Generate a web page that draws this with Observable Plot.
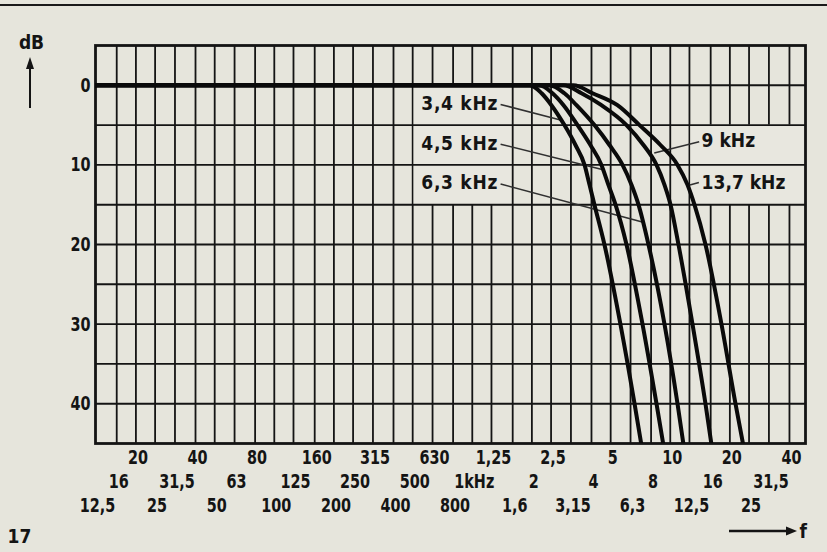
<!DOCTYPE html>
<html>
<head>
<meta charset="utf-8">
<script src="https://cdn.jsdelivr.net/npm/d3@7"></script>
<script src="https://cdn.jsdelivr.net/npm/@observablehq/plot@0.6"></script>
<style>
  body { margin: 0; background: #e6e5dc; }
  #chart svg { display: block; }
</style>
</head>
<body>
<div id="chart"></div>
<script>
// ---- data ----
const freqTicks = [12.5, 16, 20, 25, 31.5, 40, 50, 63, 80, 100, 125, 160, 200, 250, 315, 400, 500, 630, 800,
  1000, 1250, 1600, 2000, 2500, 3150, 4000, 5000, 6300, 8000, 10000, 12500, 16000, 20000, 25000, 31500, 40000];
const freqLabels = ["12,5", "16", "20", "25", "31,5", "40", "50", "63", "80", "100", "125", "160", "200", "250", "315",
  "400", "500", "630", "800", "1kHz", "1,25", "1,6", "2", "2,5", "3,15", "4", "5", "6,3", "8", "10", "12,5", "16", "20",
  "25", "31,5", "40"];
const dbTicks = [0, 10, 20, 30, 40];
const dbGrid = [0, 5, 10, 15, 20, 25, 30, 35, 40];

// attenuation levels (dB) and the frequency (Hz) at which each curve reaches them
const dbLevels = [0, 0, 1, 2.5, 5, 7.5, 10, 12.5, 15, 20, 30, 40, 46];
const f34  = [12.5, 1950, 2240, 2510, 2920, 3320, 3690, 3910, 4140, 4650, 5600, 6600, 7240];
const f45  = [12.5, 2185, 2540, 2890, 3400, 3950, 4490, 4870, 5290, 6010, 7240, 8520, 9350];
const f63  = [12.5, 2450, 2920, 3360, 4140, 4930, 5740, 6370, 6910, 7760, 9350, 10880, 11800];
const f90  = [12.5, 2890, 3560, 4490, 6010, 7320, 8520, 9350, 10030, 11000, 12950, 15060, 16340];
const f137 = [12.5, 3245, 4050, 5410, 6990, 8920, 10880, 12220, 13250, 15060, 18140, 21350, 23700];

const curveNames = ["3,4 kHz", "4,5 kHz", "6,3 kHz", "9 kHz", "13,7 kHz"];
const curveFreqs = [f34, f45, f63, f90, f137];

// annotation placement (data units)
const labelFreqLeft = 1350, labelFreqRight = 14400;
const labelDbLeft = [2.4, 7.3, 12.3];
const labelDbRight = [7.0, 12.2];
const leaderStart = [[1390, 2.4], [1390, 7.4], [1390, 12.4], [14000, 7.1], [13950, 12.2]];
const leaderEnd = [[2820, 4.4], [4580, 10.6], [7300, 17.2], [8300, 8.5], [12300, 12.6]];
const boxes = [{x1: 500, x2: 1600, y1: 0, y2: 15}, {x1: 12500, x2: 48200, y1: 5, y2: 15}];

// ---- build tables ----
const curveRows = curveNames.flatMap((name, i) =>
  dbLevels.map((db, j) => ({name, f: curveFreqs[i][j], db})));
const leaders = leaderStart.map((s, i) => ({x1: s[0], y1: s[1], x2: leaderEnd[i][0], y2: leaderEnd[i][1]}));
const leftLabels = labelDbLeft.map((db, i) => ({text: curveNames[i], db}));
const rightLabels = labelDbRight.map((db, i) => ({text: curveNames[i + 3], db}));
const idx = freqTicks.map((_, i) => i);

const FONT = '"DejaVu Sans Condensed","DejaVu Sans",sans-serif';
const INK = "#141414";
const W = 827, H = 552, mT = 45, mR = 22, mB = 109, mL = 95;
const rowDy = [62, 38, 14];

const tickText = (row) => Plot.text(idx.filter(i => i % 3 === row), {
  x: i => freqTicks[i], text: i => freqLabels[i], frameAnchor: "bottom", dy: rowDy[row], dx: 2,
  fontSize: 20, fontWeight: "bold", fill: INK, lineAnchor: "middle", ariaLabel: () => "narrow"
});

const chart = Plot.plot({
  width: W, height: H, marginTop: mT, marginRight: mR, marginBottom: mB, marginLeft: mL,
  x: {type: "log", domain: [12.5, 48200], axis: null},
  y: {domain: [45, -5], axis: null},
  style: {background: "#e6e5dc", fontFamily: FONT, color: INK, overflow: "visible"},
  marks: [
    Plot.ruleX(freqTicks.slice(1), {stroke: INK, strokeWidth: 1.8}),
    Plot.rect(boxes, {x1: "x1", x2: "x2", y1: "y1", y2: "y2", fill: "#e8e7df", insetLeft: 1.4, insetRight: 1.4}),
    Plot.ruleY(dbGrid, {stroke: INK, strokeWidth: 1.9}),
    Plot.frame({stroke: INK, strokeWidth: 2.8}),
    Plot.link(leaders, {x1: "x1", y1: "y1", x2: "x2", y2: "y2", stroke: "#303030", strokeWidth: 1.6}),
    Plot.line(curveRows, {x: "f", y: "db", z: "name", stroke: "#0a0a0a", strokeWidth: 4,
      curve: "monotone-x", clip: true}),
    Plot.text(leftLabels, {x: () => labelFreqLeft, y: "db", text: "text", textAnchor: "end",
      fontSize: 19, fontWeight: "bold", fill: INK, ariaLabel: () => "cutoff"}),
    Plot.text(rightLabels, {x: () => labelFreqRight, y: "db", text: "text", textAnchor: "start",
      fontSize: 19, fontWeight: "bold", fill: INK}),
    Plot.text(dbTicks, {y: d => d, text: d => String(d), frameAnchor: "left", textAnchor: "end", dx: -5,
      fontSize: 20, fontWeight: "bold", fill: INK, ariaLabel: () => "narrow"}),
    tickText(0), tickText(1), tickText(2),
    Plot.text(["dB"], {frameAnchor: "top-left", dx: -64, dy: -3, textAnchor: "middle", lineAnchor: "middle",
      fontSize: 19, fontWeight: "bold", fill: INK}),
    Plot.text(["17"], {frameAnchor: "bottom-left", dx: -76, dy: 93, textAnchor: "middle", lineAnchor: "middle",
      fontSize: 19, fontWeight: "bold", fill: INK}),
    Plot.text(["f"], {frameAnchor: "bottom-right", dx: -6, dy: 88, textAnchor: "start", lineAnchor: "middle",
      fontSize: 19, fontWeight: "bold", fill: INK})
  ]
});

const svg = d3.select(chart);
svg.selectAll('text[aria-label="cutoff"]').attr("letter-spacing", "0.7px");
svg.selectAll('text[aria-label="narrow"]').each(function () {
  const t = this.getAttribute("transform") || "";
  this.setAttribute("transform", t + " scale(0.8,1)");
});
// decorations: page rule at top, axis arrows
svg.append("line").attr("x1", 0).attr("x2", W).attr("y1", 5).attr("y2", 5)
  .attr("stroke", "#1a1a1a").attr("stroke-width", 2);
const ax = mL - 65;
svg.append("line").attr("x1", ax).attr("x2", ax).attr("y1", mT + 63).attr("y2", mT + 22)
  .attr("stroke", INK).attr("stroke-width", 2);
svg.append("path").attr("d", `M${ax},${mT + 12} L${ax - 4},${mT + 24} L${ax + 4},${mT + 24} Z`).attr("fill", INK);
const fy = H - mB + 88, fxEnd = W - mR - 8;
svg.append("line").attr("x1", fxEnd - 68).attr("x2", fxEnd - 8).attr("y1", fy).attr("y2", fy)
  .attr("stroke", INK).attr("stroke-width", 2.5);
svg.append("path").attr("d", `M${fxEnd},${fy} L${fxEnd - 11},${fy - 4.5} L${fxEnd - 11},${fy + 4.5} Z`).attr("fill", INK);

document.getElementById("chart").append(chart);
</script>
</body>
</html>
